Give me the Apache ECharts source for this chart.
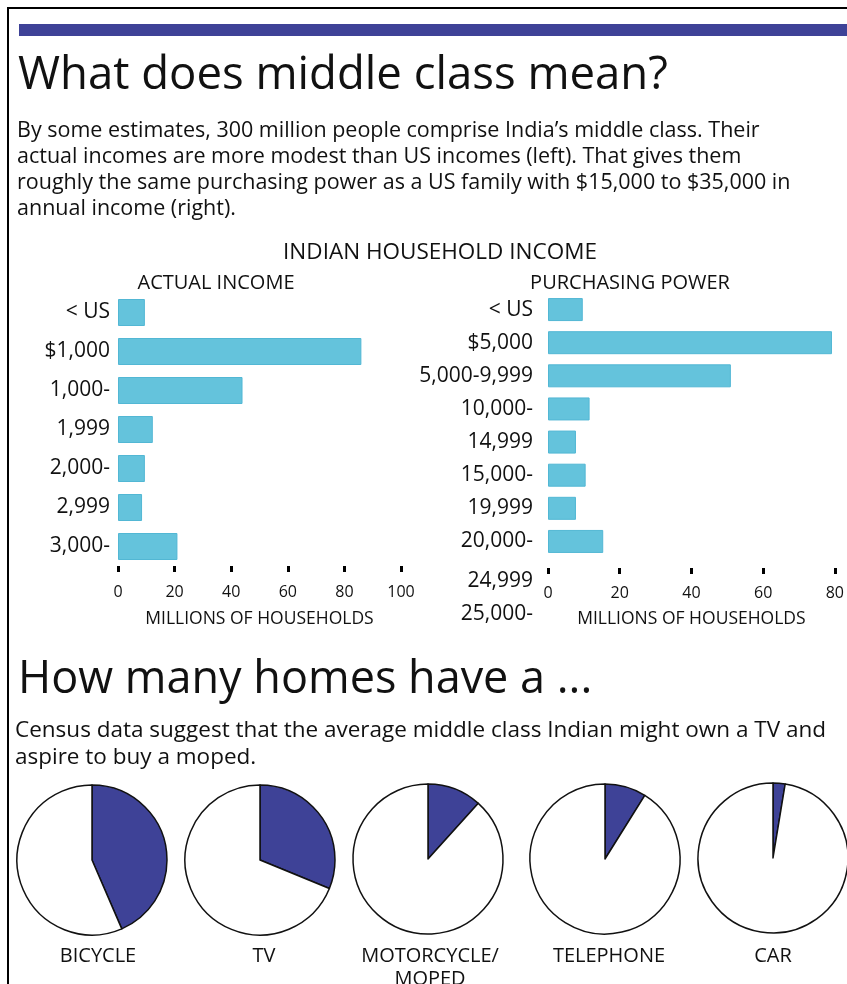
<!DOCTYPE html>
<html>
<head>
<meta charset="utf-8">
<script src="https://cdn.jsdelivr.net/npm/echarts@6/dist/echarts.min.js"></script>
<style>
  html, body { margin: 0; padding: 0; background: #fff; }
  #chart { width: 847px; height: 984px; }
</style>
</head>
<body>
<div id="chart"></div>
<script>
// actual income, millions of households (left chart)
const actualLabels = ['< US', '$1,000', '1,000-', '1,999', '2,000-', '2,999', '3,000-'];
const actualValues = [9.5, 86, 44, 12.3, 9.5, 8.5, 21];

// purchasing power, millions of households (right chart)
const powerLabels = ['< US', '$5,000', '5,000-9,999', '10,000-', '14,999', '15,000-', '19,999', '20,000-', '24,999', '25,000-'];
const powerValues = [9.7, 79.2, 51, 11.6, 7.8, 10.5, 7.8, 15.4];

// share of homes owning each item (%)
const goods = ['BICYCLE', 'TV', 'MOTORCYCLE/\nMOPED', 'TELEPHONE', 'CAR'];
const ownedShare = [43.5, 31.2, 11.7, 8.9, 2.6];

const FONT = 'Open Sans';
const INK = '#111';
const NAVY = '#3e4297';
const CYAN = '#64c3dc';

const chart = echarts.init(document.getElementById('chart'));

const pieCenters = [[92, 860], [260, 860], [428, 859], [605, 859], [773, 858]];
const labelX = [98, 264, 430, 609, 773];

const txt = (x, y, text, size, extra) => ({
  type: 'text',
  x, y,
  style: Object.assign({
    text, fontFamily: FONT, fontSize: size, fill: INK,
    textAlign: 'left', textVerticalAlign: 'middle'
  }, extra || {})
});

const graphics = [
  { type: 'rect', shape: { x: 8, y: 8, width: 900, height: 1000 }, style: { fill: 'none', stroke: '#000', lineWidth: 2 } },
  { type: 'rect', shape: { x: 19, y: 24, width: 840, height: 12 }, style: { fill: NAVY } },
  txt(18, 76, 'What does middle class mean?', 45.5),
  txt(17, 170, 'By some estimates, 300 million people comprise India\u2019s middle class. Their\nactual incomes are more modest than US incomes (left). That gives them\nroughly the same purchasing power as a US family with $15,000 to $35,000 in\nannual income (right).', 21.5, { lineHeight: 26 }),
  txt(440, 253, 'INDIAN HOUSEHOLD INCOME', 22.5, { textAlign: 'center' }),
  txt(216, 283, 'ACTUAL INCOME', 20, { textAlign: 'center' }),
  txt(630, 283, 'PURCHASING POWER', 20, { textAlign: 'center' }),
  txt(18, 680, 'How many homes have a ...', 45),
  txt(15, 744, 'Census data suggest that the average middle class Indian might own a TV and\naspire to buy a moped.', 22.5, { lineHeight: 27 })
];

// the two purchasing-power labels that fall below the last bar
powerLabels.slice(powerValues.length).forEach((t, i) => {
  graphics.push(txt(533, 581 + i * 33, t, 21, { textAlign: 'right' }));
});

goods.forEach((g, i) => {
  graphics.push(txt(labelX[i], 945, g, 20, { textAlign: 'center', textVerticalAlign: 'top', lineHeight: 23 }));
});

const xAxisBase = {
  type: 'value',
  min: 0,
  interval: 20,
  splitLine: { show: false },
  axisLine: { show: false },
  axisTick: { show: true, length: 6, lineStyle: { color: '#000', width: 3 } },
  axisLabel: { color: INK, fontFamily: FONT, fontSize: 16, margin: 18 },
  name: 'MILLIONS OF HOUSEHOLDS',
  nameLocation: 'middle',
  nameTextStyle: { color: INK, fontFamily: FONT, fontSize: 17.5 }
};

const yAxisBase = {
  type: 'category',
  inverse: true,
  axisLine: { show: false },
  axisTick: { show: false },
  axisLabel: { color: INK, fontFamily: FONT, fontSize: 21 }
};

const barStyle = { color: CYAN, borderColor: '#52b7d4', borderWidth: 1 };

const option = {
  backgroundColor: '#fff',
  animation: false,
  graphic: graphics,
  grid: [
    { left: 118, width: 283, top: 293, height: 273 },
    { left: 548, width: 289, top: 293, height: 265 }
  ],
  xAxis: [
    Object.assign({}, xAxisBase, { gridIndex: 0, max: 100, nameGap: 44.5 }),
    Object.assign({}, xAxisBase, { gridIndex: 1, max: 80, offset: 10, nameGap: 42.5,
      axisLabel: Object.assign({}, xAxisBase.axisLabel, { margin: 17 }) })
  ],
  yAxis: [
    Object.assign({}, yAxisBase, { gridIndex: 0, data: actualLabels,
      axisLabel: Object.assign({}, yAxisBase.axisLabel, { margin: 8 }) }),
    Object.assign({}, yAxisBase, { gridIndex: 1, data: powerLabels.slice(0, powerValues.length),
      axisLabel: Object.assign({}, yAxisBase.axisLabel, { margin: 15 }) })
  ],
  series: [
    { type: 'bar', xAxisIndex: 0, yAxisIndex: 0, data: actualValues, barWidth: 27, itemStyle: barStyle },
    { type: 'bar', xAxisIndex: 1, yAxisIndex: 1, data: powerValues, barWidth: 23, itemStyle: barStyle }
  ].concat(ownedShare.map((v, i) => ({
    type: 'pie',
    center: pieCenters[i],
    radius: 75,
    startAngle: 90,
    clockwise: true,
    label: { show: false },
    labelLine: { show: false },
    emphasis: { disabled: true },
    itemStyle: { borderColor: '#111', borderWidth: 1.5 },
    data: [
      { value: v, name: goods[i], itemStyle: { color: NAVY } },
      { value: 100 - v, name: 'other', itemStyle: { color: '#fff' } }
    ]
  })))
};

chart.setOption(option);
</script>
</body>
</html>
